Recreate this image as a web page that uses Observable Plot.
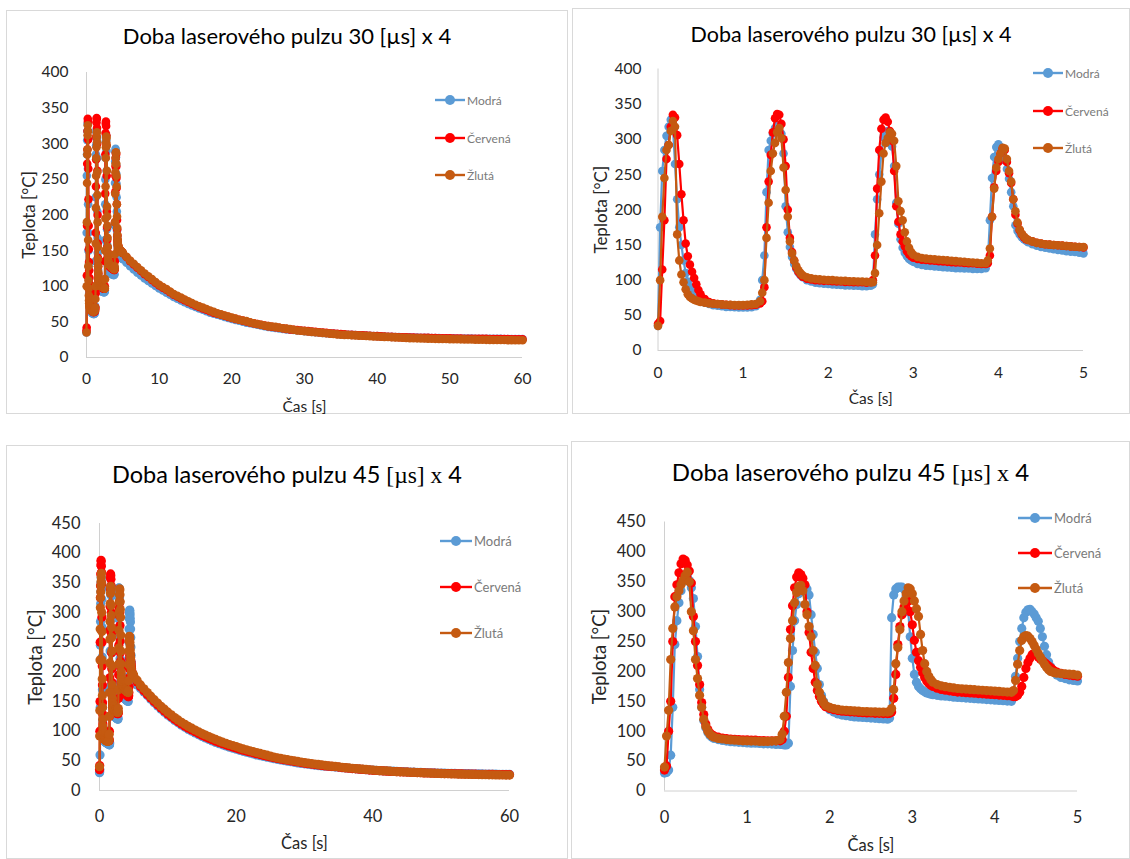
<!DOCTYPE html>
<html>
<head>
<meta charset="utf-8">
<script src="https://cdn.jsdelivr.net/npm/d3@7"></script>
<script src="https://cdn.jsdelivr.net/npm/@observablehq/plot@0.6"></script>
<style>
  body { margin: 0; background: #fff; }
  #page { position: relative; width: 1130px; height: 859px; overflow: hidden; background: #fff; font-family: Lato, "Open Sans", sans-serif; }
  .panel { position: absolute; border: 1px solid #d9d9d9; box-sizing: border-box; background: #fff; }
  .title { position: absolute; text-align: center; color: #000; white-space: nowrap; }
  .title .serif { font-family: "Liberation Serif", "DejaVu Serif", serif; }
  .legend-row { position: absolute; display: flex; align-items: center; color: #7a7a7a; white-space: nowrap; }
</style>
</head>
<body>
<div id="page"></div>
<script>
// ---------------- DATA ----------------
const seriesNames = ["Modrá", "Červená", "Žlutá"];
const seriesColors = ["#5B9BD5", "#FF0000", "#C55A11"];

const title30 = "Doba laserového pulzu 30 [µs] x 4";
const title45Parts = ["Doba laserového pulzu 45 ", "[µs] x", " 4"];
const xLabel = "Čas [s]";
const yLabel = "Teplota [°C]";

const xTicksFull30 = [0, 10, 20, 30, 40, 50, 60];
const xTicksFull45 = [0, 20, 40, 60];
const xTicksZoom = [0, 1, 2, 3, 4, 5];
const yTicks30 = [0, 50, 100, 150, 200, 250, 300, 350, 400];
const yTicks45 = [0, 50, 100, 150, 200, 250, 300, 350, 400, 450];

// 30 µs pulses: first 5 s
const time30 = [0,0.025,0.05,0.075,0.1,0.125,0.15,0.175,0.2,0.225,0.25,0.275,0.3,0.325,0.35,0.375,0.4,0.425,0.45,0.475,0.5,
  0.55,0.6,0.65,0.7,0.75,0.8,0.85,0.9,0.95,1,1.05,1.1,1.15,1.2,
  1.225,1.25,1.275,1.3,1.325,1.35,1.375,1.4,1.425,1.45,1.475,1.5,1.525,1.55,1.575,1.6,1.625,1.65,1.675,1.7,
  1.75,1.8,1.85,1.9,1.95,2,2.05,2.1,2.15,2.2,2.25,2.3,2.35,2.4,2.45,2.5,
  2.525,2.55,2.575,2.6,2.625,2.65,2.675,2.7,2.725,2.75,2.775,2.8,2.825,2.85,2.875,2.9,2.925,2.95,2.975,3,
  3.05,3.1,3.15,3.2,3.25,3.3,3.35,3.4,3.45,3.5,3.55,3.6,3.65,3.7,3.75,3.8,3.85,
  3.875,3.9,3.925,3.95,3.975,4,4.025,4.05,4.075,4.1,4.125,4.15,4.175,4.2,4.225,4.25,4.275,4.3,4.325,4.35,
  4.4,4.45,4.5,4.55,4.6,4.65,4.7,4.75,4.8,4.85,4.9,4.95,5];
const modra30 = [35,175,255,285,305,318,328,318,265,215,175,150,128,110,98,90,84,79,76,73,71,
  68,66,64.5,63.5,63,62,62,61.5,61,61,61,61.5,63,72,
  100,135,225,285,298,308,316,320,318,308,280,205,168,147,133,123,116,111,107,104,
  100,98,96.5,95.5,95,94.5,94,93.5,93,92.5,92.5,92,92,91.5,91.5,92,
  94,165,215,250,280,303,310,312,305,290,262,210,180,158,146,139,134,130,128,126,
  123,121.5,120.5,120,119.5,119,118.5,118,117.5,117,117,116.5,116.5,116,116,116,117,
  125,185,245,275,289,293,289,281,270,258,244,225,205,178,170,165,161,158,156,154,
  151,149,147,146,145,144,143,142,141,140.5,140,139,138];
const cervena30 = [38,42,115,185,272,292,318,335,331,306,265,222,185,152,134,122,112,103,94,86,80,
  73,69,67,66,65.5,65,64.5,64,64,64,64,64.5,65,67,
  70,90,175,240,278,310,330,336,335,322,300,262,200,160,140,128,118,112,108,105,
  102,101,100,99.5,99,99,98.5,98,98,97.5,97.5,97,97,97,96.5,97,
  100,135,230,285,315,328,331,325,312,298,255,205,183,165,155,148,141,137,134,132,
  130,129,128.5,128,127.5,127,126.5,126,125.5,125,125,124.5,124,124,123.5,123,123,
  124,135,190,232,255,268,280,287,285,268,252,238,215,193,180,171,165,161,158,157,
  155,153,152,151,150.5,150,149.5,149,148.5,148,147.5,147,146.5];
const zluta30 = [35,100,190,245,285,292,312,326,318,165,128,108,97,87,80,76,74,72,71,70,69,
  68,67,66.5,66,65.5,65,65,64.5,64.5,64.5,65,65.5,66,70,
  82,100,160,210,255,280,295,310,316,302,260,228,190,155,138,128,120,114,110,107,
  104,102.5,101.5,101,100.5,100,100,99.5,99,99,98.5,98.5,98,98,97.5,97,
  97,110,150,195,240,280,295,302,310,308,298,262,212,198,185,168,155,146,140,136,
  133,131.5,130.5,130,129.5,129,128.5,128,127.5,127,126.5,126,125.5,125,124.5,124,124,
  128,145,190,230,260,272,280,288,287,272,255,240,215,198,182,172,166,162,159,157,
  155,153,152,151,150.5,150,149.5,149,148.5,148,147.5,147,147];

// 45 µs pulses: first 5 s
const time45 = [0,0.025,0.05,0.075,0.1,0.125,0.15,0.175,0.2,0.225,0.25,0.275,0.3,0.325,0.35,0.375,0.4,0.425,0.45,0.475,0.5,0.525,0.55,0.575,0.6,
  0.65,0.7,0.75,0.8,0.85,0.9,0.95,1,1.05,1.1,1.15,1.2,1.25,1.3,1.35,1.4,
  1.425,1.45,1.475,1.5,1.525,1.55,1.575,1.6,1.625,1.65,1.675,1.7,1.725,1.75,1.775,1.8,1.825,1.85,1.875,1.9,1.925,1.95,
  2,2.05,2.1,2.15,2.2,2.25,2.3,2.35,2.4,2.45,2.5,2.55,2.6,2.65,2.7,
  2.725,2.75,2.775,2.8,2.825,2.85,2.875,2.9,2.925,2.95,2.975,3,3.025,3.05,3.075,3.1,3.125,3.15,3.175,3.2,3.225,3.25,
  3.3,3.35,3.4,3.45,3.5,3.55,3.6,3.65,3.7,3.75,3.8,3.85,3.9,3.95,4,4.05,4.1,4.15,4.2,
  4.225,4.25,4.275,4.3,4.325,4.35,4.375,4.4,4.425,4.45,4.475,4.5,4.525,4.55,4.575,4.6,4.625,4.65,4.675,4.7,4.725,4.75,
  4.8,4.85,4.9,4.95,5];
const modra45 = [30,31,35,60,140,245,285,315,335,350,358,360,352,340,322,275,225,170,140,118,106,98,93,90,88,
  86,84.5,83.5,82.5,82,81.5,81,80.5,80,80,79.5,79,79,78.5,78,78,
  78,77,77,80,175,235,285,312,330,340,345,343,338,328,295,262,232,205,178,160,150,143,
  136,132,129,127,126,125,124,123.5,123,122.5,122,121.5,121,120.5,120,
  122,290,328,338,341,341,341,338,325,300,258,222,195,182,175,171,168,166,164,163,162,161,
  160,159,158.5,158,157,156.5,156,155.5,155,154.5,154,153.5,153,152.5,152,151.5,151,150.5,150,
  160,192,222,250,272,290,299,303,304,300,296,290,284,272,258,242,228,216,208,202,198,194,
  190,188,186,185,184];
const cervena45 = [35,42,100,150,250,325,345,365,380,388,386,378,368,348,292,250,210,178,148,128,112,103,97,94,92,
  90,88.5,87.5,87,86.5,86,85.5,85.5,85,85,84.5,84.5,84,84,84,84,
  86,100,125,190,270,310,340,358,365,362,356,345,300,265,232,205,182,168,158,150,145,141,
  138,136,134.5,133.5,133,132.5,132,131.5,131,130.5,130.5,130,130,129.5,129.5,
  130,132,155,195,245,275,295,308,316,318,300,278,252,232,218,207,198,190,184,180,177,175,
  172,170,168.5,167.5,166.5,165.5,165,164.5,164,163.5,163,162.5,162,161.5,161,160.5,160,159.5,159,
  158,158,160,165,175,190,205,215,222,228,230,228,224,221,218,215,212,209,206,203,200,199,
  197,195,194,193,192];
const zluta45 = [40,92,135,220,272,308,325,335,345,352,360,366,350,300,268,220,188,160,140,120,108,100,95,92,90,
  88,87,86,85.5,85,84.5,84,84,83.5,83.5,83,83,83,83.5,84,86,
  95,125,165,215,255,285,315,332,342,344,335,312,295,275,258,235,210,178,165,155,148,143,
  140,138,136.5,135.5,135,134.5,134,133.5,133,133,132.5,132.5,132,132,132,
  133,138,170,213,240,270,300,318,330,340,338,330,318,305,292,262,235,213,200,192,186,182,
  178,176,174.5,173.5,172.5,171.5,171,170.5,170,169.5,169,168.5,168,167.5,167,166.5,166,165.5,165,
  168,185,212,235,252,258,260,259,255,250,244,237,230,224,218,212,207,203,200,199,198,197,
  196.5,196,195.5,195,194];

// cooling after the pulses, 5.5–60 s
const tailTime = [5.5,6,6.5,7,7.5,8,8.5,9,9.5,10, 10.5,11,11.5,12,12.5,13,13.5,14,14.5,15,
  15.5,16,16.5,17,17.5,18,18.5,19,19.5,20, 20.5,21,21.5,22,22.5,23,23.5,24,24.5,25,
  25.5,26,26.5,27,27.5,28,28.5,29,29.5,30, 30.5,31,31.5,32,32.5,33,33.5,34,34.5,35,
  35.5,36,36.5,37,37.5,38,38.5,39,39.5,40, 40.5,41,41.5,42,42.5,43,43.5,44,44.5,45,
  45.5,46,46.5,47,47.5,48,48.5,49,49.5,50, 50.5,51,51.5,52,52.5,53,53.5,54,54.5,55,
  55.5,56,56.5,57,57.5,58,58.5,59,59.5,60];
const modra30Tail = [133,128,123.5,119,115,111,107.5,104,100.5,97, 94,91,88,85,82.5,80,77.5,75,73,71,
  69,67,65,63,61.5,60,58.5,57,55.5,54, 52.7,51.5,50.2,49,48,47,46,45,44,43,
  42.2,41.5,40.7,40,39.5,39,38.5,38,37.5,37, 36.5,36,35.5,35,34.5,34,33.7,33.5,33,32.5,
  32.2,32,31.7,31.5,31.2,31,30.7,30.5,30.2,30, 29.7,29.5,29.2,29,28.8,28.7,28.5,28.4,28.2,28.1,
  27.9,27.8,27.6,27.5,27.4,27.3,27.2,27.1,27,26.9, 26.8,26.7,26.6,26.6,26.5,26.5,26.4,26.4,26.3,26.3,
  26.2,26.2,26.1,26.1,26,26,26,26,25.9,25.9];
const cervena30Tail = [141,135,130.5,126,121.5,117,113,109,105,101, 98,95,91.5,88,85.5,83,80.5,78,75.5,73,
  71,69,67,65,63,61.5,60,58.5,57,55.5, 54.2,53,51.7,50.5,49.2,48,47,46,45,44,
  43.2,42.5,41.7,41,40.2,39.5,39,38.5,38,37.5, 37,36.5,36,35.5,35,34.5,34,33.5,33.2,33,
  32.5,32,31.7,31.5,31.2,31,30.7,30.5,30.2,30, 29.7,29.5,29.2,29,28.7,28.5,28.3,28.2,28.1,28,
  27.8,27.7,27.6,27.5,27.3,27.2,27.1,27,26.9,26.8, 26.7,26.6,26.5,26.4,26.4,26.3,26.2,26.2,26.1,26.1,
  26,26,25.9,25.9,25.8,25.8,25.7,25.7,25.6,25.6];
const zluta30Tail = [141.5,136,131.5,127,122.5,118,114,110,106,102, 99,96,92.5,89,86.5,84,81.5,79,76.5,74,
  72,70,68,66,64,62,60.5,59,57.5,56, 54.5,53,52,51,49.5,48,47,46,45,44,
  43.5,43,42,41,40.5,40,39,38,37.5,37, 36.5,36,35.5,35,34.5,34,33.5,33,32.5,32,
  31.7,31.5,31.2,31,30.7,30.5,30.2,30,29.7,29.5, 29.2,29,28.7,28.5,28.2,28,27.7,27.5,27.2,27,
  26.9,26.8,26.6,26.5,26.3,26.2,26.1,26,25.9,25.8, 25.7,25.6,25.5,25.4,25.3,25.2,25.1,25,24.9,24.8,
  24.7,24.6,24.6,24.5,24.5,24.4,24.4,24.3,24.3,24.2];
const modra45Tail = [178,172,166,160,154,148,142.5,137,132,127, 122.5,118,114,110,106.5,103,100,97,94,91,
  88.5,86,83.5,81,79,77,75,73,71.2,69.5, 67.7,66,64.5,63,61.5,60,58.7,57.5,56.2,55,
  53.7,52.5,51.5,50.5,49.5,48.5,47.5,46.5,45.7,45, 44.2,43.5,42.7,42,41.5,41,40.5,40,39.5,39,
  38.5,38,37.5,37,36.5,36,35.5,35,34.7,34.5, 34,33.5,33.2,33,32.7,32.5,32.2,32,31.7,31.5,
  31.2,31,30.7,30.5,30.2,30,29.8,29.7,29.5,29.4, 29.2,29.1,28.9,28.8,28.6,28.5,28.4,28.3,28.2,28.1,
  28,27.9,27.8,27.7,27.6,27.5,27.4,27.3,27.2,27.2];
const cervena45Tail = [183,175,168,162,156,150,144.5,139,134,129, 124.5,120,116,112,108.5,105,102,99,96,93,
  90.5,88,85.5,83,81,79,77,75,73.2,71.5, 69.7,68,66.5,65,63.5,62,60.5,59,57.7,56.5,
  55.2,54,53,52,51,50,49,48,47,46, 45.2,44.5,43.7,43,42.2,41.5,41,40.5,40,39.5,
  38.7,38,37.5,37,36.5,36,35.5,35,34.5,34, 33.7,33.5,33,32.5,32.2,32,31.7,31.5,31.2,31,
  30.7,30.5,30.2,30,29.7,29.5,29.3,29.2,29,28.8, 28.6,28.5,28.3,28.2,28.1,28,27.8,27.7,27.6,27.5,
  27.4,27.3,27.2,27.1,27.05,27,26.9,26.8,26.75,26.7];
const zluta45Tail = [186,178,171.5,165,159,153,147.5,142,137,132, 127.5,123,119,115,111.5,108,105,102,99,96,
  93.5,91,88.5,86,83.7,81.5,79.5,77.5,75.7,74, 72,70,68.5,67,65.5,64,62.5,61,59.5,58,
  56.5,55,54,53,52,51,50,49,48,47, 46.2,45.5,44.7,44,43.2,42.5,41.7,41,40.5,40,
  39.2,38.5,38,37.5,37,36.5,36,35.5,35,34.5, 34,33.5,33.2,33,32.5,32,31.7,31.5,31.2,31,
  30.7,30.5,30.2,30,29.7,29.5,29.2,29,28.7,28.5, 28.3,28.2,28,27.8,27.6,27.5,27.3,27.2,27.1,27,
  26.8,26.7,26.6,26.5,26.4,26.3,26.2,26.1,26.05,26];

// ---------------- TABLES ----------------
function rows(time, values, name) {
  return time.map((t, i) => ({t, v: values[i], s: name}));
}
const zoom30 = [rows(time30, modra30, "Modrá"), rows(time30, cervena30, "Červená"), rows(time30, zluta30, "Žlutá")];
const zoom45 = [rows(time45, modra45, "Modrá"), rows(time45, cervena45, "Červená"), rows(time45, zluta45, "Žlutá")];
const full30 = [
  rows(time30.concat(tailTime), modra30.concat(modra30Tail), "Modrá"),
  rows(time30.concat(tailTime), cervena30.concat(cervena30Tail), "Červená"),
  rows(time30.concat(tailTime), zluta30.concat(zluta30Tail), "Žlutá")];
const full45 = [
  rows(time45.concat(tailTime), modra45.concat(modra45Tail), "Modrá"),
  rows(time45.concat(tailTime), cervena45.concat(cervena45Tail), "Červená"),
  rows(time45.concat(tailTime), zluta45.concat(zluta45Tail), "Žlutá")];

// ---------------- LAYOUT ----------------
const panels = [
  {series: full30, title: [title30], xMax: 60, xTicks: xTicksFull30, yMax: 400, yTicks: yTicks30,
   box: {left: 6, top: 10, width: 562, height: 404}, frame: {x0: 86, x1: 522, yTop: 72, yBot: 357},
   fs: 15.5, xPad: 15, yPad: 18, xLabelDy: 50, yLabelDx: -57, xLabelFs: 15.5, yLabelFs: 17, r: 4.3,
   titleY: 36, titleFs: 22, legend: {x: 435, w: 30, ys: [100, 138, 175], fs: 12}},
  {series: zoom30, title: [title30], xMax: 5, xTicks: xTicksZoom, yMax: 400, yTicks: yTicks30,
   box: {left: 572, top: 8, width: 558, height: 406}, frame: {x0: 657.5, x1: 1083, yTop: 68.5, yBot: 350},
   fs: 15.5, xPad: 16, yPad: 16.5, xLabelDy: 49, yLabelDx: -56.5, xLabelFs: 15.5, yLabelFs: 17, r: 4.3,
   titleY: 34, titleFs: 21.5, legend: {x: 1033, w: 30, ys: [73, 111, 148], fs: 12}},
  {series: full45, title: title45Parts, xMax: 60, xTicks: xTicksFull45, yMax: 450, yTicks: yTicks45,
   box: {left: 6, top: 445, width: 562, height: 414}, frame: {x0: 99, x1: 509, yTop: 523, yBot: 790},
   fs: 16.5, xPad: 20, yPad: 19, xLabelDy: 53, yLabelDx: -63, xLabelFs: 16.5, yLabelFs: 18.5, r: 4.6,
   titleY: 475, titleFs: 23.5, legend: {x: 440, w: 32, ys: [541, 587, 633], fs: 13}},
  {series: zoom45, title: title45Parts, xMax: 5, xTicks: xTicksZoom, yMax: 450, yTicks: yTicks45,
   box: {left: 571, top: 441, width: 559, height: 418}, frame: {x0: 664, x1: 1077, yTop: 521.5, yBot: 790.5},
   fs: 16.5, xPad: 20, yPad: 19, xLabelDy: 54.5, yLabelDx: -64, xLabelFs: 16.5, yLabelFs: 18.5, r: 4.6,
   titleY: 472, titleFs: 24, legend: {x: 1018, w: 34, ys: [518, 553, 588], fs: 13}}
];

const page = document.getElementById("page");

function buildPanel(cfg) {
  const b = cfg.box, f = cfg.frame;
  const div = document.createElement("div");
  div.className = "panel";
  Object.assign(div.style, {left: b.left + "px", top: b.top + "px", width: b.width + "px", height: b.height + "px"});
  page.appendChild(div);

  const marks = [
    Plot.ruleY([0], {stroke: "#d0d0d0", strokeWidth: 1}),
    Plot.ruleX([0], {stroke: "#d0d0d0", strokeWidth: 1}),
    Plot.axisX({ticks: cfg.xTicks, tickSize: 0, tickPadding: cfg.xPad, tickFormat: d => String(d), label: null}),
    Plot.axisY({ticks: cfg.yTicks, tickSize: 0, tickPadding: cfg.yPad, tickFormat: d => String(d), label: null}),
    Plot.text([xLabel], {text: d => d, frameAnchor: "bottom", dy: cfg.xLabelDy, lineAnchor: "middle", textAnchor: "middle",
      fontSize: cfg.xLabelFs, fill: "#262626"}),
    Plot.text([yLabel], {text: d => d, frameAnchor: "left", dx: cfg.yLabelDx, rotate: -90, lineAnchor: "middle", textAnchor: "middle",
      fontSize: cfg.yLabelFs, fill: "#262626"})
  ];
  cfg.series.forEach(data => {
    marks.push(Plot.line(data, {x: "t", y: "v", stroke: "s", strokeWidth: 2.2}));
    marks.push(Plot.dot(data, {x: "t", y: "v", fill: "s", r: cfg.r}));
  });

  const svg = Plot.plot({
    width: b.width,
    height: b.height,
    marginLeft: f.x0 - b.left,
    marginRight: b.left + b.width - f.x1,
    marginTop: f.yTop - b.top,
    marginBottom: b.top + b.height - f.yBot,
    style: {fontFamily: "Lato, 'Open Sans', sans-serif", fontSize: cfg.fs + "px", color: "#262626", background: "transparent", overflow: "visible"},
    color: {domain: seriesNames, range: seriesColors},
    x: {domain: [0, cfg.xMax]},
    y: {domain: [0, cfg.yMax]},
    marks
  });
  svg.style.position = "absolute";
  svg.style.left = b.left + "px";
  svg.style.top = b.top + "px";
  page.appendChild(svg);

  // title
  const t = document.createElement("div");
  t.className = "title";
  Object.assign(t.style, {left: b.left + "px", width: b.width + "px", top: (cfg.titleY - cfg.titleFs * 0.62) + "px",
    fontSize: cfg.titleFs + "px", lineHeight: (cfg.titleFs * 1.24) + "px"});
  cfg.title.forEach((part, i) => {
    const span = document.createElement("span");
    span.textContent = part;
    if (cfg.title.length > 1 && i === 1) span.className = "serif";
    t.appendChild(span);
  });
  page.appendChild(t);

  // legend
  const L = cfg.legend;
  seriesNames.forEach((name, i) => {
    const row = document.createElement("div");
    row.className = "legend-row";
    Object.assign(row.style, {left: L.x + "px", top: (L.ys[i] - 8) + "px", height: "16px", fontSize: L.fs + "px"});
    const ns = "http://www.w3.org/2000/svg";
    const sw = document.createElementNS(ns, "svg");
    sw.setAttribute("width", L.w); sw.setAttribute("height", 16);
    const ln = document.createElementNS(ns, "line");
    ln.setAttribute("x1", 0); ln.setAttribute("x2", L.w); ln.setAttribute("y1", 8); ln.setAttribute("y2", 8);
    ln.setAttribute("stroke", seriesColors[i]); ln.setAttribute("stroke-width", 2.4);
    const c = document.createElementNS(ns, "circle");
    c.setAttribute("cx", L.w / 2); c.setAttribute("cy", 8); c.setAttribute("r", 5); c.setAttribute("fill", seriesColors[i]);
    sw.appendChild(ln); sw.appendChild(c);
    row.appendChild(sw);
    const span = document.createElement("span");
    span.textContent = name;
    span.style.marginLeft = "2px";
    row.appendChild(span);
    page.appendChild(row);
  });
}

panels.forEach(buildPanel);
</script>
</body>
</html>
